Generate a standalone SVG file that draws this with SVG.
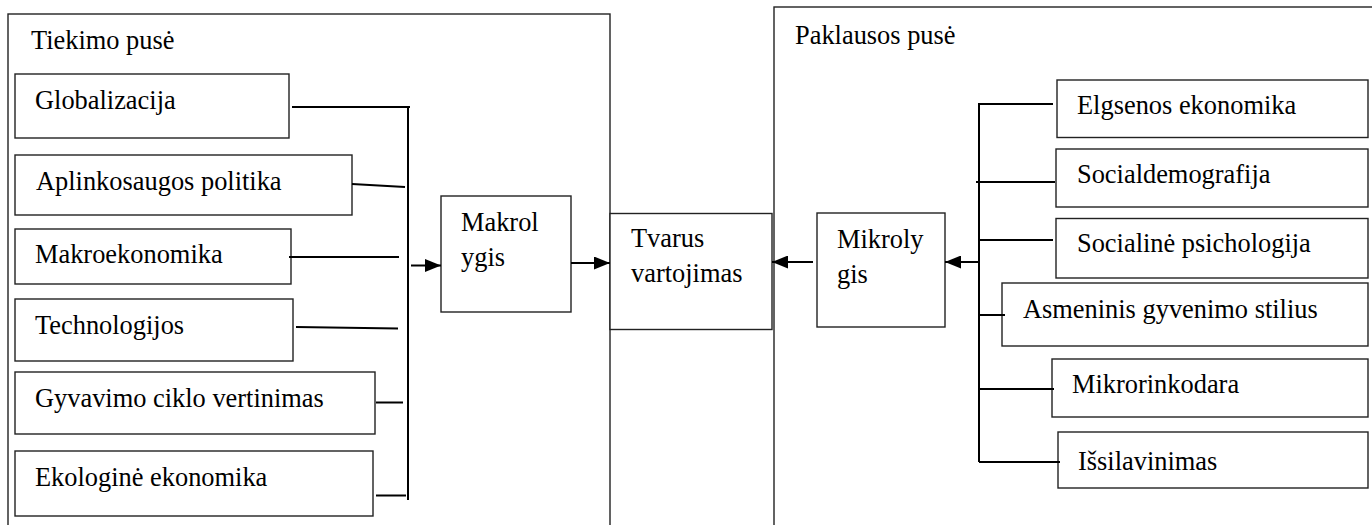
<svg xmlns="http://www.w3.org/2000/svg" width="1372" height="525" viewBox="0 0 1372 525">
<style>
  .frame { fill: none; stroke: #222; stroke-width: 1.4; }
  .box { fill: #fff; stroke: #222; stroke-width: 1.4; }
  .t { font-family: 'Liberation Serif', Tinos, 'Times New Roman', 'DejaVu Serif', serif; font-size: 26.4px; fill: #000; }
  .c { fill: none; stroke: #000; stroke-width: 2; }
</style>
<defs>
  <marker id="ah" markerUnits="userSpaceOnUse" markerWidth="16" markerHeight="13" viewBox="0 0 16 13" refX="16" refY="6.5" orient="auto">
    <path d="M0,0 L16,6.5 L0,13 z" fill="#000"/>
  </marker>
</defs>
<rect width="1372" height="525" fill="#fff"/>

<g id="supply-side">
  <rect class="frame" x="8" y="14" width="602" height="520"/>
  <text class="t" x="31" y="49">Tiekimo pusė</text>
</g>
<g id="demand-side">
  <rect class="frame" x="774" y="7" width="620" height="530"/>
  <text class="t" x="795" y="44">Paklausos pusė</text>
</g>

<g id="globalizacija">
  <rect class="box" x="15" y="74" width="274" height="64"/>
  <text class="t" x="35" y="109">Globalizacija</text>
</g>
<g id="aplinkosaugos">
  <rect class="box" x="15" y="155" width="337" height="60"/>
  <text class="t" x="36" y="190">Aplinkosaugos politika</text>
</g>
<g id="makroekonomika">
  <rect class="box" x="15" y="229" width="276" height="55"/>
  <text class="t" x="35" y="263">Makroekonomika</text>
</g>
<g id="technologijos">
  <rect class="box" x="15" y="299" width="278" height="62"/>
  <text class="t" x="35" y="334">Technologijos</text>
</g>
<g id="gyvavimo">
  <rect class="box" x="15" y="372" width="360" height="62"/>
  <text class="t" x="35" y="407">Gyvavimo ciklo vertinimas</text>
</g>
<g id="ekologine">
  <rect class="box" x="15" y="451" width="358" height="65"/>
  <text class="t" x="35" y="486">Ekologinė ekonomika</text>
</g>

<g id="makrolygis">
  <rect class="box" x="441" y="196" width="130" height="116"/>
  <text class="t" x="461" y="231">Makrol</text>
  <text class="t" x="461" y="266">ygis</text>
</g>
<g id="tvarus">
  <rect class="box" x="610" y="213.5" width="162" height="116"/>
  <text class="t" x="631" y="247">Tvarus</text>
  <text class="t" x="631" y="282">vartojimas</text>
</g>
<g id="mikrolygis">
  <rect class="box" x="817" y="213" width="128" height="114"/>
  <text class="t" x="837" y="248">Mikroly</text>
  <text class="t" x="837" y="283">gis</text>
</g>

<g id="elgsenos">
  <rect class="box" x="1057" y="80" width="311" height="57.5"/>
  <text class="t" x="1077" y="114">Elgsenos ekonomika</text>
</g>
<g id="socialdemografija">
  <rect class="box" x="1056" y="149" width="312" height="58"/>
  <text class="t" x="1077" y="183">Socialdemografija</text>
</g>
<g id="socialine">
  <rect class="box" x="1056" y="218.5" width="312" height="59.5"/>
  <text class="t" x="1077" y="252">Socialinė psichologija</text>
</g>
<g id="asmeninis">
  <rect class="box" x="1002" y="283" width="366" height="63"/>
  <text class="t" x="1023" y="318">Asmeninis gyvenimo stilius</text>
</g>
<g id="mikrorinkodara">
  <rect class="box" x="1052" y="359" width="316" height="58"/>
  <text class="t" x="1072" y="393">Mikrorinkodara</text>
</g>
<g id="issilavinimas">
  <rect class="box" x="1058" y="432" width="310" height="56"/>
  <text class="t" x="1078" y="470">Išsilavinimas</text>
</g>

<g id="connectors">
  <line class="c" x1="408" y1="106" x2="408" y2="500"/>
  <line class="c" x1="292" y1="107" x2="410" y2="107"/>
  <line class="c" x1="352" y1="184" x2="405" y2="187"/>
  <line class="c" x1="289" y1="257" x2="399" y2="257"/>
  <line class="c" x1="296" y1="327" x2="398" y2="328.5"/>
  <line class="c" x1="376" y1="402.5" x2="403" y2="402.5"/>
  <line class="c" x1="376" y1="495.5" x2="406" y2="495.5"/>
  <line class="c" x1="411" y1="265.5" x2="441" y2="265.5" marker-end="url(#ah)"/>
  <line class="c" x1="571" y1="263" x2="610" y2="263" marker-end="url(#ah)"/>
  <line class="c" x1="813" y1="262" x2="772" y2="262" marker-end="url(#ah)"/>
  <line class="c" x1="979" y1="262" x2="945" y2="262" marker-end="url(#ah)"/>
  <line class="c" x1="979" y1="104" x2="979" y2="462"/>
  <line class="c" x1="978" y1="104" x2="1053" y2="104"/>
  <line class="c" x1="976" y1="182" x2="1055" y2="182"/>
  <line class="c" x1="979" y1="240" x2="1053" y2="240"/>
  <line class="c" x1="978" y1="315" x2="1005" y2="315"/>
  <line class="c" x1="979" y1="389" x2="1054" y2="389"/>
  <line class="c" x1="979" y1="462" x2="1060" y2="462"/>
</g>
</svg>
